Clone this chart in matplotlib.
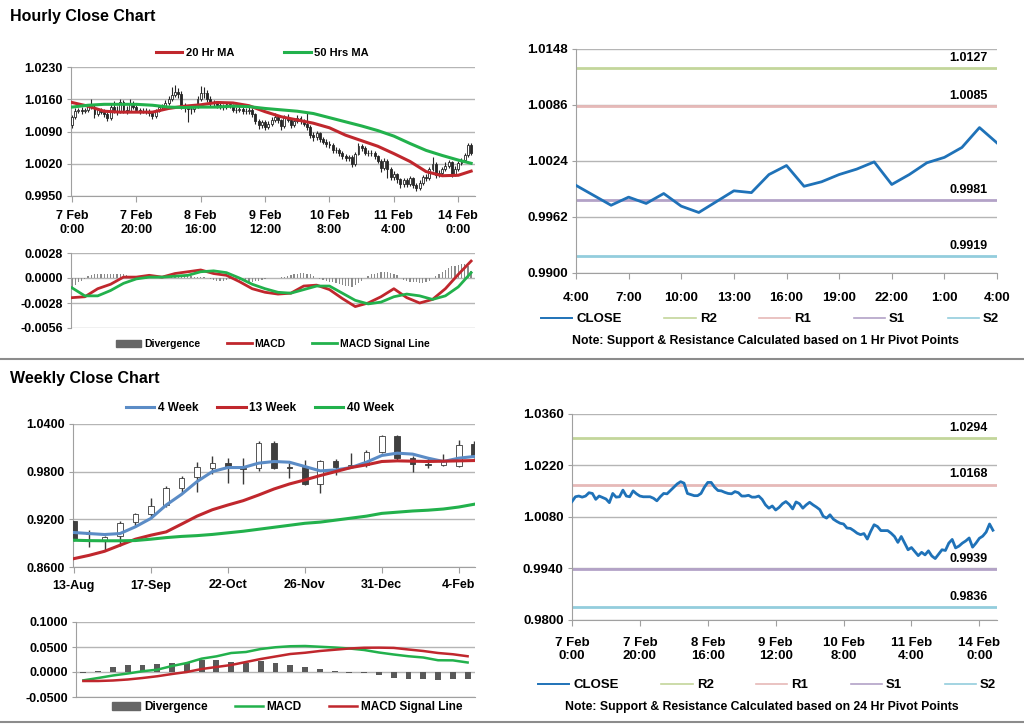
import matplotlib
matplotlib.use("Agg")
import matplotlib.pyplot as plt
import numpy as np
from matplotlib.lines import Line2D
from matplotlib.patches import Patch

plt.rcParams["font.family"] = ["Liberation Sans", "DejaVu Sans"]
plt.rcParams["font.weight"] = "bold"
plt.rcParams["font.size"] = 8

# ── hourly data (7 Feb 0:00 .. 14 Feb 4:00, one bar per hour) ────────────────
h_ticklabels = ["7 Feb\n0:00", "7 Feb\n20:00", "8 Feb\n16:00", "9 Feb\n12:00",
                "10 Feb\n8:00", "11 Feb\n4:00", "14 Feb\n0:00"]
h_tickpos = [0, 20, 40, 60, 80, 100, 120]
h_open0 = 1.0105
h_close = np.array([
    1.0122, 1.0135, 1.0137, 1.0134, 1.0137, 1.0146, 1.0144, 1.0128, 1.0137, 1.0133,
    1.0129, 1.0119, 1.0144, 1.0134, 1.0135, 1.0153, 1.0137, 1.0135, 1.0151, 1.0143,
    1.0137, 1.0135, 1.0135, 1.0135, 1.0131, 1.0124, 1.0135, 1.0144, 1.0143, 1.0152,
    1.0161, 1.0170, 1.0176, 1.0172, 1.0144, 1.0141, 1.0138, 1.0138, 1.0144, 1.0161,
    1.0174, 1.0174, 1.0161, 1.0152, 1.0151, 1.0147, 1.0144, 1.0143, 1.0149, 1.0146,
    1.0137, 1.0137, 1.0139, 1.0134, 1.0134, 1.0137, 1.0128, 1.0113, 1.0104, 1.0110,
    1.0099, 1.0106, 1.0116, 1.0122, 1.0114, 1.0102, 1.0121, 1.0116, 1.0104, 1.0113,
    1.0120, 1.0113, 1.0107, 1.0100, 1.0082, 1.0077, 1.0086, 1.0074, 1.0068, 1.0063,
    1.0061, 1.0050, 1.0049, 1.0043, 1.0036, 1.0032, 1.0035, 1.0020, 1.0041, 1.0059,
    1.0054, 1.0043, 1.0043, 1.0043, 1.0036, 1.0027, 1.0011, 1.0027, 1.0009, 0.9991,
    0.9997, 0.9986, 0.9975, 0.9984, 0.9977, 0.9988, 0.9974, 0.9967, 0.9979, 0.9991,
    0.9989, 1.0009, 1.0019, 0.9996, 1.0001, 1.0009, 1.0015, 1.0023, 0.9998, 1.0009,
    1.0022, 1.0028, 1.0039, 1.0061, 1.0044])
h_high = np.array([
    1.0126, 1.0140, 1.0142, 1.0143, 1.0141, 1.0150, 1.0161, 1.0147, 1.0141, 1.0142,
    1.0138, 1.0132, 1.0150, 1.0156, 1.0145, 1.0160, 1.0158, 1.0145, 1.0160, 1.0156,
    1.0148, 1.0142, 1.0141, 1.0140, 1.0139, 1.0134, 1.0139, 1.0148, 1.0150, 1.0158,
    1.0168, 1.0186, 1.0190, 1.0185, 1.0178, 1.0152, 1.0146, 1.0145, 1.0150, 1.0168,
    1.0188, 1.0186, 1.0180, 1.0166, 1.0158, 1.0156, 1.0153, 1.0150, 1.0155, 1.0154,
    1.0150, 1.0144, 1.0145, 1.0144, 1.0141, 1.0143, 1.0141, 1.0131, 1.0117, 1.0116,
    1.0114, 1.0112, 1.0121, 1.0130, 1.0126, 1.0118, 1.0126, 1.0127, 1.0120, 1.0118,
    1.0126, 1.0124, 1.0117, 1.0132, 1.0104, 1.0088, 1.0091, 1.0090, 1.0079, 1.0073,
    1.0069, 1.0065, 1.0056, 1.0055, 1.0048, 1.0042, 1.0040, 1.0038, 1.0046, 1.0066,
    1.0063, 1.0058, 1.0050, 1.0049, 1.0047, 1.0040, 1.0030, 1.0033, 1.0030, 1.0014,
    1.0004, 1.0001, 0.9990, 0.9990, 0.9988, 0.9993, 0.9992, 0.9978, 0.9984, 0.9996,
    0.9998, 1.0014, 1.0035, 1.0023, 1.0007, 1.0014, 1.0024, 1.0028, 1.0026, 1.0015,
    1.0027, 1.0033, 1.0044, 1.0066, 1.0064])
h_low = np.array([
    1.0098, 1.0118, 1.0130, 1.0128, 1.0130, 1.0133, 1.0138, 1.0120, 1.0124, 1.0127,
    1.0122, 1.0113, 1.0116, 1.0130, 1.0126, 1.0131, 1.0131, 1.0128, 1.0132, 1.0138,
    1.0132, 1.0129, 1.0130, 1.0128, 1.0124, 1.0117, 1.0120, 1.0132, 1.0138, 1.0140,
    1.0148, 1.0157, 1.0165, 1.0162, 1.0138, 1.0132, 1.0110, 1.0128, 1.0132, 1.0140,
    1.0156, 1.0163, 1.0155, 1.0146, 1.0144, 1.0141, 1.0138, 1.0137, 1.0138, 1.0140,
    1.0132, 1.0131, 1.0132, 1.0128, 1.0127, 1.0129, 1.0122, 1.0106, 1.0096, 1.0098,
    1.0093, 1.0095, 1.0102, 1.0110, 1.0108, 1.0094, 1.0098, 1.0110, 1.0098, 1.0100,
    1.0108, 1.0107, 1.0101, 1.0094, 1.0076, 1.0070, 1.0072, 1.0068, 1.0062, 1.0057,
    1.0054, 1.0044, 1.0043, 1.0037, 1.0030, 1.0025, 1.0026, 1.0012, 1.0016, 1.0038,
    1.0048, 1.0038, 1.0037, 1.0036, 1.0030, 1.0021, 1.0003, 1.0006, 0.9990, 0.9984,
    0.9985, 0.9979, 0.9968, 0.9970, 0.9970, 0.9972, 0.9968, 0.9960, 0.9963, 0.9974,
    0.9982, 0.9984, 1.0004, 0.9990, 0.9991, 0.9996, 1.0004, 1.0010, 0.9992, 0.9994,
    1.0005, 1.0018, 1.0024, 1.0035, 1.0040])

ma_x = [0, 5, 10, 15, 20, 25, 30, 35, 40, 45, 50, 55, 60, 65, 70, 75, 80, 85, 90,
        95, 100, 105, 110, 115, 120, 124]
ma20 = [1.0153, 1.0145, 1.0134, 1.0132, 1.0132, 1.0132, 1.0140, 1.0145, 1.0148,
        1.0153, 1.0152, 1.0146, 1.0133, 1.0122, 1.0115, 1.0108, 1.0098, 1.0082,
        1.0070, 1.0058, 1.0042, 1.0025, 1.0003, 0.9994, 0.9995, 1.0004]
ma50 = [1.0143, 1.0147, 1.0149, 1.0149, 1.0149, 1.0147, 1.0143, 1.0142, 1.0143,
        1.0143, 1.0145, 1.0144, 1.0140, 1.0137, 1.0134, 1.0129, 1.0120, 1.0111,
        1.0102, 1.0092, 1.0080, 1.0064, 1.0049, 1.0038, 1.0028, 1.0021]

macd_x = list(range(0, 125, 4))
h_macd = [-0.0022, -0.0021, -0.0012, -0.0007, 0.0001, 0.0001, 0.0003, 0.0001,
          0.0005, 0.0007, 0.0009, 0.0005, 0.0003, -0.0004, -0.0012, -0.0016,
          -0.0018, -0.0017, -0.0009, -0.0008, -0.0013, -0.0023, -0.0032, -0.0028,
          -0.0021, -0.0012, -0.0022, -0.0028, -0.0024, -0.0012, 0.0004, 0.0019]
h_signal = [-0.0011, -0.0020, -0.0020, -0.0014, -0.0006, -0.0001, 0.0001, 0.0001,
            0.0002, 0.0003, 0.0007, 0.0008, 0.0006, 0.0000, -0.0007, -0.0012,
            -0.0016, -0.0017, -0.0013, -0.0009, -0.0009, -0.0017, -0.0025, -0.0029,
            -0.0027, -0.0021, -0.0018, -0.0020, -0.0024, -0.0020, -0.0010, 0.0006]
# divergence in units of 1e-4, one value per hour
h_div = [-10, -8, -5, -3, -1,
         2, 3, 4, 5, 5, 5, 5, 5, 5, 5, 4, 5, 3,
         1, 1, 0, 0, 0, -1, 0, 0, 0, 0, 0, 0,
         1, 1, 2, 2, 2, 3, 2, 2, 1, 1, 1, 1, 0,
         -1, -2, -3, -3, -3, -2, -1, 0,
         -1, -2, -3, -4, -4, -4, -3, -3, -2, -1,
         0, 0, 0, 0, 1, 1, 2,
         3, 4, 5, 6, 6, 5, 4, 2,
         0, -1, -2,
         -3, -4, -5, -6, -7, -8, -9, -9, -10, -8, -6, -3,
         0, 2,
         4, 5, 6, 7, 7, 7, 6, 5, 3,
         0, -2, -3, -4, -5, -5, -6, -6, -5, -3,
         0, 2, 4, 7, 9, 11, 13, 14, 15, 16, 16, 14, 8]

# ── pivots ───────────────────────────────────────────────────────────────────
pivot_names = ["R2", "R1", "S1", "S2"]
pivot_colors = ["#c3d69b", "#e6b9b8", "#b3a2c7", "#93cddd"]
pivots_1h = [1.0127, 1.0085, 0.9981, 0.9919]
pivots_24h = [1.0294, 1.0168, 0.9939, 0.9836]
last24_labels = ["4:00", "7:00", "10:00", "13:00", "16:00", "19:00", "22:00", "1:00", "4:00"]

# ── weekly data ──────────────────────────────────────────────────────────────
w_ticklabels = ["13-Aug", "17-Sep", "22-Oct", "26-Nov", "31-Dec", "4-Feb"]
w_open = [0.9180, 0.9020, 0.8925, 0.8992, 0.9169, 0.9266, 0.9380, 0.9599, 0.9730,
          0.9852, 0.9907, 0.9843, 0.9843, 1.0160, 0.9865, 0.9865, 0.9645, 0.9936,
          0.9865, 0.9886, 1.0046, 1.0244, 0.9970, 0.9902, 0.9886, 0.9877, 1.0147]
w_close = [0.8937, 0.9030, 0.8980, 0.9160, 0.9262, 0.9371, 0.9599, 0.9725, 0.9856,
           0.9907, 0.9843, 0.9830, 1.0160, 0.9852, 0.9852, 0.9645, 0.9936, 0.9856,
           0.9886, 1.0042, 1.0244, 0.9970, 0.9894, 0.9886, 0.9936, 1.0139, 0.9991]
w_high = [0.9180, 0.9072, 0.8990, 0.9177, 0.9283, 0.9464, 0.9624, 0.9751, 0.9919,
          0.9996, 0.9970, 0.9978, 1.0189, 1.0181, 0.9907, 0.9949, 0.9949, 0.9957,
          1.0033, 1.0075, 1.0257, 1.0257, 0.9991, 0.9970, 1.0020, 1.0202, 1.0181]
w_low = [0.8930, 0.8853, 0.8798, 0.8865, 0.9106, 0.9232, 0.9359, 0.9548, 0.9540,
         0.9768, 0.9654, 0.9641, 0.9810, 0.9835, 0.9725, 0.9633, 0.9536, 0.9759,
         0.9843, 0.9865, 1.0033, 0.9936, 0.9801, 0.9843, 0.9877, 0.9865, 0.9978]
ma4w = [0.9034, 0.9021, 0.9009, 0.9021, 0.9106, 0.9211, 0.9380, 0.9515, 0.9675,
        0.9801, 0.9852, 0.9852, 0.9907, 0.9928, 0.9919, 0.9865, 0.9810, 0.9822,
        0.9852, 0.9919, 1.0004, 1.0033, 1.0021, 0.9970, 0.9928, 0.9970, 0.9991]
ma13w = [0.8705, 0.8747, 0.8798, 0.8874, 0.8950, 0.9000, 0.9042, 0.9140, 0.9240,
         0.9321, 0.9380, 0.9435, 0.9506, 0.9582, 0.9645, 0.9696, 0.9751, 0.9801,
         0.9852, 0.9886, 0.9928, 0.9936, 0.9932, 0.9928, 0.9932, 0.9936, 0.9940]
ma40w = [0.8937, 0.8932, 0.8930, 0.8930, 0.8933, 0.8950, 0.8970, 0.8985, 0.8995,
         0.9010, 0.9030, 0.9050, 0.9075, 0.9100, 0.9125, 0.9150, 0.9165, 0.9190,
         0.9215, 0.9240, 0.9275, 0.9290, 0.9305, 0.9315, 0.9330, 0.9355, 0.9390]
w_div = [-0.0020, 0.0020, 0.0100, 0.0133, 0.0133, 0.0167, 0.0180, 0.0180, 0.0233,
         0.0233, 0.0200, 0.0180, 0.0220, 0.0180, 0.0147, 0.0100, 0.0053, 0.0020,
         -0.0013, -0.0020, -0.0067, -0.0113, -0.0147, -0.0147, -0.0167, -0.0147, -0.0147]
w_macd = [-0.0167, -0.0120, -0.0070, -0.0030, 0.0015, 0.0047, 0.0120, 0.0180, 0.0267,
          0.0313, 0.0380, 0.0400, 0.0460, 0.0495, 0.0515, 0.0520, 0.0505, 0.0490,
          0.0470, 0.0440, 0.0390, 0.0350, 0.0315, 0.0290, 0.0235, 0.0233, 0.0190]
w_signal = [-0.0180, -0.0180, -0.0170, -0.0150, -0.0120, -0.0085, -0.0040, 0.0000,
            0.0060, 0.0100, 0.0140, 0.0200, 0.0260, 0.0310, 0.0360, 0.0385, 0.0420,
            0.0445, 0.0470, 0.0485, 0.0487, 0.0482, 0.0450, 0.0420, 0.0380, 0.0355, 0.0315]

RED = "#c0272d"
GREEN = "#22b14c"
BLUE4W = "#5b8cc6"
CLOSE_BLUE = "#1f72b8"
GRID = "#b5b5b5"
AXC = "#a0a0a0"

fig = plt.figure(figsize=(10.24, 7.24), dpi=100)


def px_axes(x0, y0, x1, y1):
    W, H = 1024, 724
    return fig.add_axes([x0 / W, 1 - y1 / H, (x1 - x0) / W, (y1 - y0) / H])


def style(ax, yticks, size=9):
    ax.set_ylim(min(yticks), max(yticks))
    ax.set_yticks(yticks)
    ax.set_yticklabels([f"{v:.4f}" for v in yticks])
    ax.grid(axis="y", color=GRID, lw=1)
    ax.set_axisbelow(True)
    for s in ("top", "right"):
        ax.spines[s].set_visible(False)
    for s in ("left", "bottom"):
        ax.spines[s].set_color(AXC)
    ax.tick_params(axis="y", length=3, color=AXC, pad=3, labelsize=size)
    ax.tick_params(axis="x", length=4, color=AXC, labelsize=size)


def legend(ax, handles, labels, y, spacing=2.5, x=0.5, size=7.5):
    ax.legend(handles, labels, loc="center", bbox_to_anchor=(x, y),
              bbox_transform=fig.transFigure, ncol=len(handles), frameon=False,
              fontsize=size, handlelength=2.4, columnspacing=spacing, handletextpad=0.3)


def fy(py):
    return 1 - py / 724


def candles(ax, x, o, c, hi, lo, width, edge, dark, lw_wick):
    x = np.asarray(x); o = np.asarray(o); c = np.asarray(c)
    ax.vlines(x, lo, hi, color=edge, lw=lw_wick, zorder=2)
    up = c >= o
    ax.bar(x[up], (c - o)[up], bottom=o[up], width=width, color="white",
           edgecolor=edge, lw=0.6, zorder=3)
    ax.bar(x[~up], (o - c)[~up], bottom=c[~up], width=width, color=dark,
           edgecolor=edge, lw=0.6, zorder=3)


# ── titles and separators ────────────────────────────────────────────────────
fig.text(10 / 1024, fy(17), "Hourly Close Chart", fontsize=11.5, va="center")
fig.text(10 / 1024, fy(378), "Weekly Close Chart", fontsize=11.5, va="center")
fig.add_artist(Line2D([0, 1], [fy(359), fy(359)], color="#8c8c8c", lw=1.5))
fig.add_artist(Line2D([0, 1], [fy(722), fy(722)], color="#8c8c8c", lw=1.5))

# ── hourly candles + MAs ─────────────────────────────────────────────────────
hidx = np.arange(len(h_close))
h_open = np.r_[h_open0, h_close[:-1]]
ax1 = px_axes(71, 67, 475, 196)
style(ax1, [0.9950, 1.0020, 1.0090, 1.0160, 1.0230])
candles(ax1, hidx, h_open, h_close, h_high, h_low, 0.6, "#262626", "#262626", 0.8)
l20, = ax1.plot(ma_x, ma20, color=RED, lw=2.2, zorder=4)
l50, = ax1.plot(ma_x, ma50, color=GREEN, lw=2.2, zorder=4)
ax1.set_xlim(-0.3, 125.2)
ax1.set_xticks(h_tickpos)
ax1.set_xticklabels(h_ticklabels, linespacing=1.2)
ax1.tick_params(axis="x", pad=6)
legend(ax1, [l20, l50], ["20 Hr MA", "50 Hrs MA"], fy(53), spacing=4.5, x=262 / 1024, size=8)

# ── hourly MACD ──────────────────────────────────────────────────────────────
ax2 = px_axes(71, 253, 475, 328)
style(ax2, [-0.0056, -0.0028, 0.0000, 0.0028])
ax2.bar(hidx, np.array(h_div) * 1e-4, width=0.4, color="#8a8a8a", zorder=2)
m1, = ax2.plot(macd_x, h_macd, color=RED, lw=2, zorder=4)
m2, = ax2.plot(macd_x, h_signal, color=GREEN, lw=2, zorder=4)
ax2.set_xlim(-0.3, 125.2)
ax2.set_xticks([])
ax2.spines["bottom"].set_visible(False)
legend(ax2, [Patch(color="#666666"), m1, m2],
       ["Divergence", "MACD", "MACD Signal Line"], fy(344), spacing=2.5, x=273 / 1024)

# ── last 24 hours vs 1 hr pivots ─────────────────────────────────────────────
last = h_close[-25:]
ax3 = px_axes(576, 49, 997, 273)
style(ax3, [0.9900, 0.9962, 1.0024, 1.0086, 1.0148], size=9.5)
for v, col in zip(pivots_1h, pivot_colors):
    ax3.axhline(v, color=col, lw=2, zorder=2)
    ax3.annotate(f"{v:.4f}", xy=(1, v), xycoords=("axes fraction", "data"),
                 xytext=(-7, 3), textcoords="offset points", ha="right", va="bottom",
                 fontsize=9)
cl, = ax3.plot(np.arange(len(last)), last, color=CLOSE_BLUE, lw=2, zorder=4)
ax3.set_xlim(0, 24)
ax3.set_xticks(range(0, 25, 3))
ax3.set_xticklabels(last24_labels)
ax3.tick_params(axis="x", pad=10)
piv_handles = [Line2D([], [], color=CLOSE_BLUE, lw=1.4)] + \
              [Line2D([], [], color=c, lw=1.2) for c in pivot_colors]
legend(ax3, piv_handles, ["CLOSE"] + pivot_names, fy(319), spacing=3.2, x=770 / 1024, size=9.5)
fig.text(765 / 1024, fy(341), "Note: Support & Resistance Calculated based on 1 Hr Pivot Points",
         ha="center", va="center", fontsize=8.8)

# ── weekly candles + MAs ─────────────────────────────────────────────────────
widx = np.arange(len(w_close))
ax4 = px_axes(73, 424, 475, 567)
style(ax4, [0.8600, 0.9200, 0.9800, 1.0400])
candles(ax4, widx, w_open, w_close, w_high, w_low, 0.36, "#3a3a3a", "#3f3f3f", 1.0)
b4, = ax4.plot(widx, ma4w, color=BLUE4W, lw=2.2, zorder=4)
b13, = ax4.plot(widx, ma13w, color=RED, lw=2.2, zorder=4)
b40, = ax4.plot(widx, ma40w, color=GREEN, lw=2.2, zorder=4)
ax4.set_xlim(-0.05, 26.05)
ax4.set_xticks(range(0, 26, 5))
ax4.set_xticklabels(w_ticklabels)
ax4.tick_params(axis="x", pad=5)
legend(ax4, [b4, b13, b40], ["4 Week", "13 Week", "40 Week"], fy(408), spacing=1.6,
       x=260 / 1024, size=8.5)

# ── weekly MACD ──────────────────────────────────────────────────────────────
ax5 = px_axes(76, 622, 475, 697)
style(ax5, [-0.0500, 0.0000, 0.0500, 0.1000])
ax5.bar(widx, w_div, width=0.4, color="#595959", zorder=2)
w1, = ax5.plot(widx, w_macd, color=GREEN, lw=1.8, zorder=4)
w2, = ax5.plot(widx, w_signal, color=RED, lw=1.8, zorder=4)
ax5.set_xlim(-0.5, 26.5)
ax5.set_xticks([])
legend(ax5, [Patch(color="#666666"), w1, w2],
       ["Divergence", "MACD", "MACD Signal Line"], fy(707), spacing=2.3, x=287 / 1024, size=8.5)

# ── hourly close vs 24 hr pivots ─────────────────────────────────────────────
ax6 = px_axes(572, 414, 997, 620)
style(ax6, [0.9800, 0.9940, 1.0080, 1.0220, 1.0360], size=9.5)
for v, col in zip(pivots_24h, pivot_colors):
    ax6.axhline(v, color=col, lw=2, zorder=2)
    ax6.annotate(f"{v:.4f}", xy=(1, v), xycoords=("axes fraction", "data"),
                 xytext=(-7, 3), textcoords="offset points", ha="right", va="bottom",
                 fontsize=9)
ax6.plot(hidx, h_close, color=CLOSE_BLUE, lw=2, zorder=4)
ax6.set_xlim(0, 125.2)
ax6.set_xticks(h_tickpos)
ax6.set_xticklabels(h_ticklabels, linespacing=1.2)
ax6.tick_params(axis="x", pad=8)
legend(ax6, piv_handles, ["CLOSE"] + pivot_names, fy(685), spacing=3.2, x=767 / 1024, size=9.5)
fig.text(762 / 1024, fy(707), "Note: Support & Resistance Calculated based on 24 Hr Pivot Points",
         ha="center", va="center", fontsize=8.8)

fig.savefig("out.png", dpi=100)
